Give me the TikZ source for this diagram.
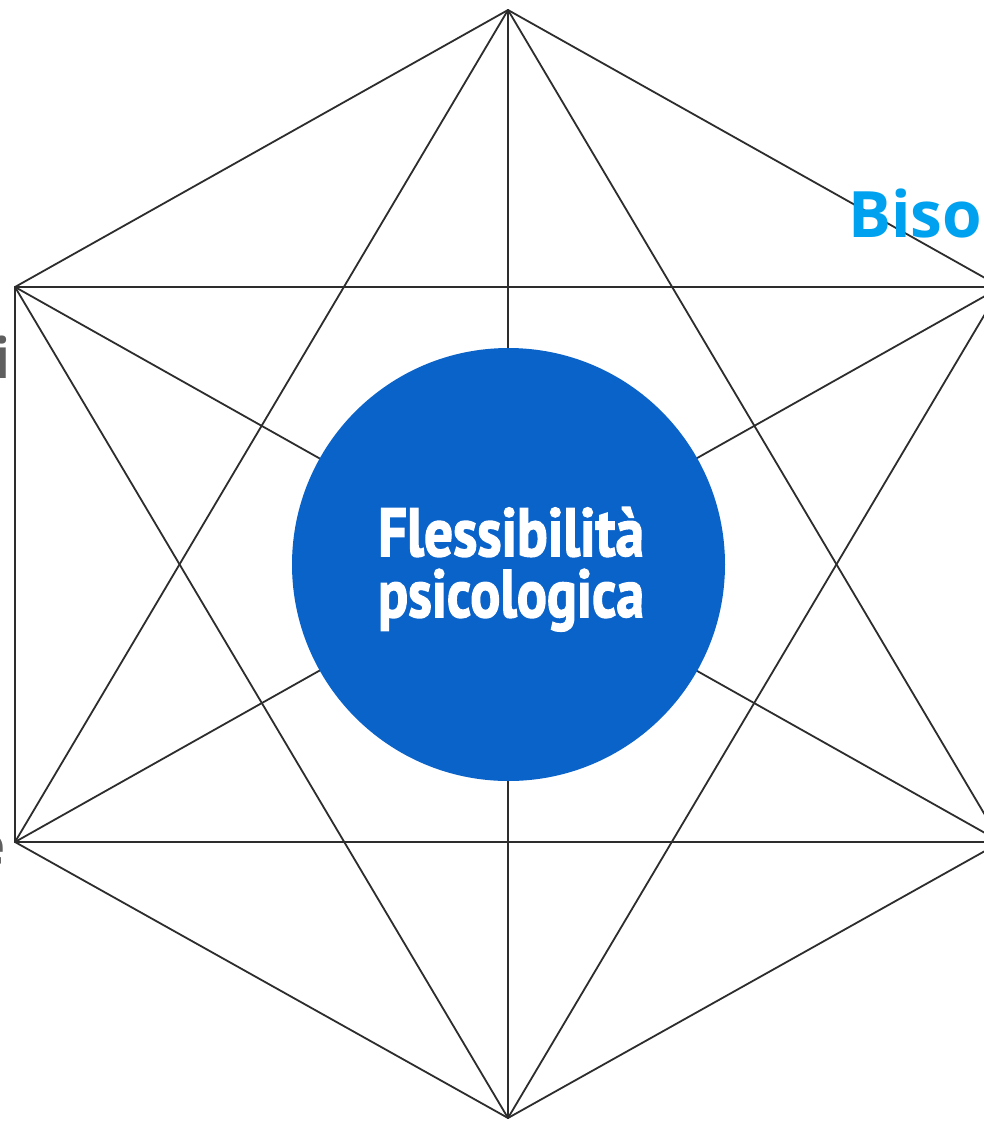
\documentclass[tikz,border=0pt]{standalone}
\usepackage{fontspec}
\setmainfont{Open Sans}
\newfontfamily\condfont[BoldFeatures={FakeBold=2.2}]{PT Sans}
\definecolor{hexline}{RGB}{45,45,45}
\definecolor{coreblue}{RGB}{10,99,201}
\definecolor{labelblue}{RGB}{0,162,240}
\definecolor{labelgray}{RGB}{95,95,95}
\begin{document}
\begin{tikzpicture}[x=1pt,y=-1pt,
  edge/.style={draw=hexline,line width=1.8pt,line cap=round},
  core/.style={circle,fill=coreblue,minimum size=433pt,inner sep=0pt},
  coretext/.style={anchor=base,inner sep=0pt,text=white},
  bluelabel/.style={anchor=base west,inner sep=0pt,text=labelblue,font=\fontsize{64}{70}\selectfont\bfseries},
  graylabel/.style={anchor=base east,inner sep=0pt,text=labelgray,font=\fontsize{56}{64}\selectfont\bfseries}]
\useasboundingbox (0,0) rectangle (984,1122);
\fill[white] (0,0) rectangle (984,1122);
\coordinate (T) at (508,10);
\coordinate (UL) at (15,287);
\coordinate (UR) at (1001,287);
\coordinate (LL) at (15,842);
\coordinate (LR) at (1001,842);
\coordinate (B) at (508,1118);
\foreach \a/\b in {T/UL,T/UR,T/LL,T/LR,T/B,UL/UR,UL/LL,UL/LR,UL/B,UR/LL,UR/LR,UR/B,LL/LR,LL/B,LR/B}
  \draw[edge] (\a) -- (\b);
\node[core] (core) at (508.5,564.5) {};
\node[coretext] (flex1) at (511,556) {\resizebox{266pt}{49pt}{\condfont\bfseries Flessibilità}};
\node[coretext] (flex2) at (511,617) {\resizebox{266pt}{48pt}{\condfont\bfseries psicologica}};
\node[bluelabel] (biso) at (848,237) {Biso};
\node[graylabel] (lefti) at (11,378) {i};
\node[graylabel] (lefte) at (6,865) {e};
\end{tikzpicture}
\end{document}
